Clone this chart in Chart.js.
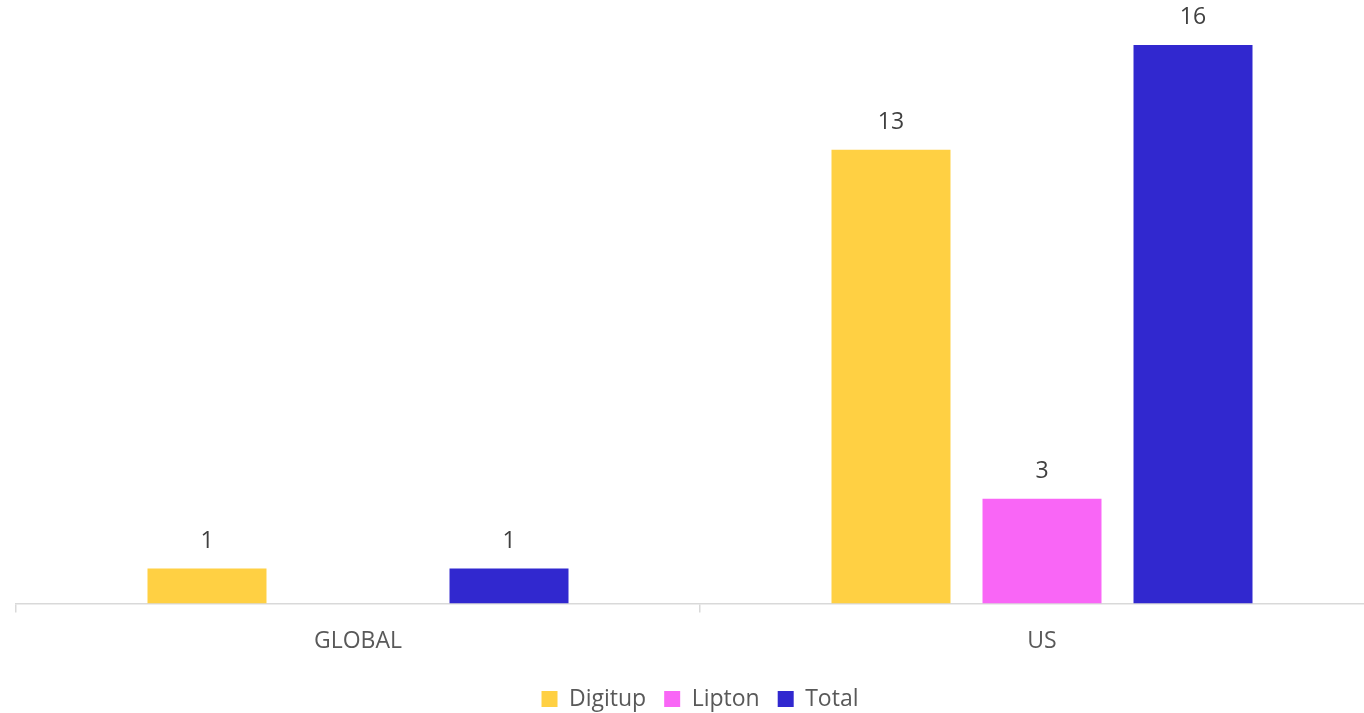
<!DOCTYPE html>
<html>
<head>
<meta charset="utf-8">
<script src="https://cdn.jsdelivr.net/npm/chart.js@4/dist/chart.umd.min.js"></script>
<style>
html,body{margin:0;padding:0;background:#fff;overflow:hidden;width:1364px;height:713px;}
#wrap{position:absolute;left:0;top:0;width:1400px;height:713px;}
</style>
</head>
<body>
<div id="wrap"><canvas id="c" width="1400" height="713"></canvas></div>
<script>
const categories = ["GLOBAL", "US"];
const digitup = [1, 13];
const lipton = [null, 3];
const total = [1, 16];
const seriesNames = ["Digitup", "Lipton", "Total"];
const seriesColors = ["#FFD043", "#F966F6", "#3128CF"];
const FONT = "'Open Sans', 'Liberation Sans', sans-serif";

const valueLabels = {
  id: 'valueLabels',
  afterDatasetsDraw(chart) {
    const ctx = chart.ctx;
    ctx.save();
    ctx.font = "23px " + FONT;
    ctx.fillStyle = "#404040";
    ctx.textAlign = "center";
    ctx.textBaseline = "middle";
    chart.data.datasets.forEach((ds, i) => {
      const meta = chart.getDatasetMeta(i);
      meta.data.forEach((bar, j) => {
        const v = ds.data[j];
        if (v === null || v === undefined) return;
        ctx.fillText(String(v), bar.x, bar.y - 27);
      });
    });
    ctx.restore();
  }
};

new Chart(document.getElementById('c'), {
  type: 'bar',
  data: {
    labels: categories,
    datasets: [
      { label: seriesNames[0], data: digitup, backgroundColor: seriesColors[0] },
      { label: seriesNames[1], data: lipton, backgroundColor: seriesColors[1] },
      { label: seriesNames[2], data: total, backgroundColor: seriesColors[2] }
    ]
  },
  options: {
    responsive: false,
    animation: false,
    devicePixelRatio: 1,
    categoryPercentage: 0.6623,
    barPercentage: 0.788,
    layout: { padding: { left: 16, right: 16, top: 10, bottom: -7.5 } },
    plugins: {
      legend: {
        position: 'bottom',
        labels: {
          font: { family: FONT, size: 23 },
          color: '#595959',
          boxWidth: 16,
          boxHeight: 16,
          padding: 18,
          useBorderRadius: false
        }
      },
      tooltip: { enabled: false }
    },
    scales: {
      x: {
        grid: { display: true, drawOnChartArea: false, drawTicks: true, tickLength: 9, color: '#d9d9d9', lineWidth: 1.5, offset: true },
        border: { display: true, color: '#d9d9d9', width: 1.5 },
        ticks: { font: { family: FONT, size: 23 }, color: '#595959', padding: 14.7 }
      },
      y: {
        display: false,
        min: 0,
        max: 17,
        grid: { display: false }
      }
    }
  },
  plugins: [valueLabels]
});
</script>
</body>
</html>
